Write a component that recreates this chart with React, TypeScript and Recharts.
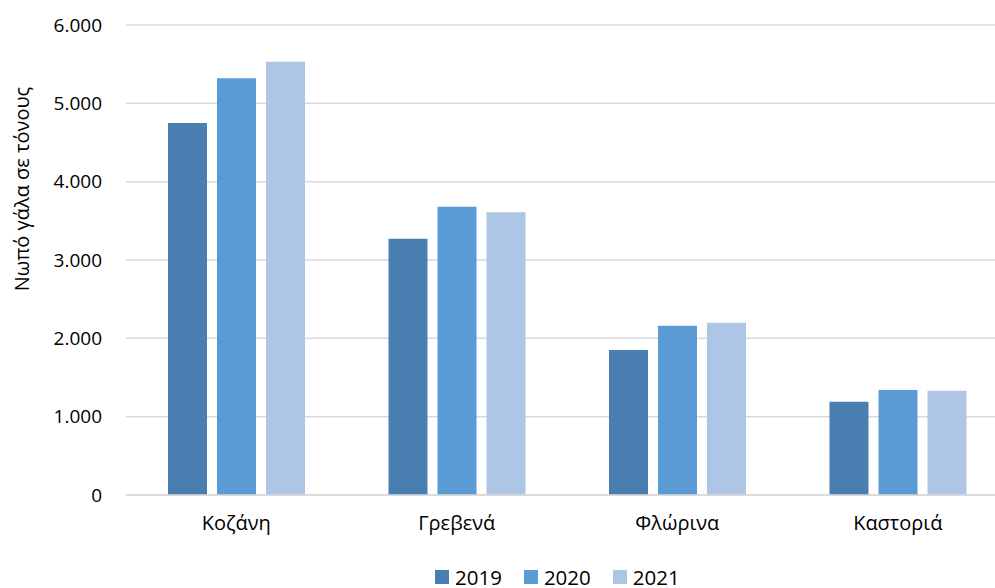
import React from 'react';
import { BarChart, Bar, XAxis, YAxis, CartesianGrid } from 'recharts';

const categories = ['Κοζάνη', 'Γρεβενά', 'Φλώρινα', 'Καστοριά'];
const values2019 = [4750, 3270, 1850, 1190];
const values2020 = [5320, 3680, 2160, 1340];
const values2021 = [5530, 3610, 2200, 1330];
const seriesNames = ['2019', '2020', '2021'];
const seriesColors = ['#4A7EB0', '#5B9BD5', '#ADC6E6'];
const yTicks = [0, 1000, 2000, 3000, 4000, 5000, 6000];
const yLabel = 'Νωπό γάλα σε τόνους';

const data = categories.map((c, i) => ({
  name: c,
  '2019': values2019[i],
  '2020': values2020[i],
  '2021': values2021[i],
}));

const FONT = "'Open Sans', sans-serif";

const fmt = (v: number) => v.toLocaleString('de-DE');

export default function App() {
  return (
    <div style={{ position: 'absolute', left: 0, top: 0, width: 995, height: 588, overflow: 'hidden', background: '#fff', fontFamily: FONT }}>
      <BarChart
        width={1010}
        height={588}
        data={data}
        margin={{ top: 25, right: 2, bottom: 63, left: 66 }}
        barSize={39}
        barGap={10}
      >
        <CartesianGrid vertical={false} stroke="#D9D9D9" strokeWidth={1.5} />
        <XAxis
          dataKey="name"
          height={30}
          axisLine={{ stroke: '#D9D9D9', strokeWidth: 1.5 }}
          tickLine={false}
          tickSize={0}
          tickMargin={21}
          tick={{ fill: '#000', fontSize: 20, fontFamily: FONT }}
          interval={0}
        />
        <YAxis
          width={60}
          domain={[0, 6000]}
          ticks={yTicks}
          tickFormatter={fmt}
          axisLine={false}
          tickLine={false}
          tickSize={0}
          tickMargin={24}
          tick={{ fill: '#000', fontSize: 19, fontFamily: FONT }}
          label={{
            content: () => (
              <text
                x={21}
                y={189}
                transform="rotate(-90 21 189)"
                textAnchor="middle"
                dominantBaseline="central"
                fill="#000"
                fontSize={20}
                fontFamily={FONT}
              >
                {yLabel}
              </text>
            ),
          }}
        />
        {seriesNames.map((s, i) => (
          <Bar key={s} dataKey={s} name={s} fill={seriesColors[i]} isAnimationActive={false} />
        ))}
      </BarChart>
      <div
        style={{
          position: 'absolute',
          left: 435,
          top: 567,
          display: 'flex',
          alignItems: 'center',
          fontSize: 20.5,
          lineHeight: '20px',
          color: '#000',
        }}
      >
        {seriesNames.map((s, i) => (
          <div key={s} style={{ display: 'flex', alignItems: 'center', marginRight: 22 }}>
            <span style={{ display: 'inline-block', width: 14, height: 14, background: seriesColors[i], marginRight: 6 }} />
            <span>{s}</span>
          </div>
        ))}
      </div>
    </div>
  );
}
